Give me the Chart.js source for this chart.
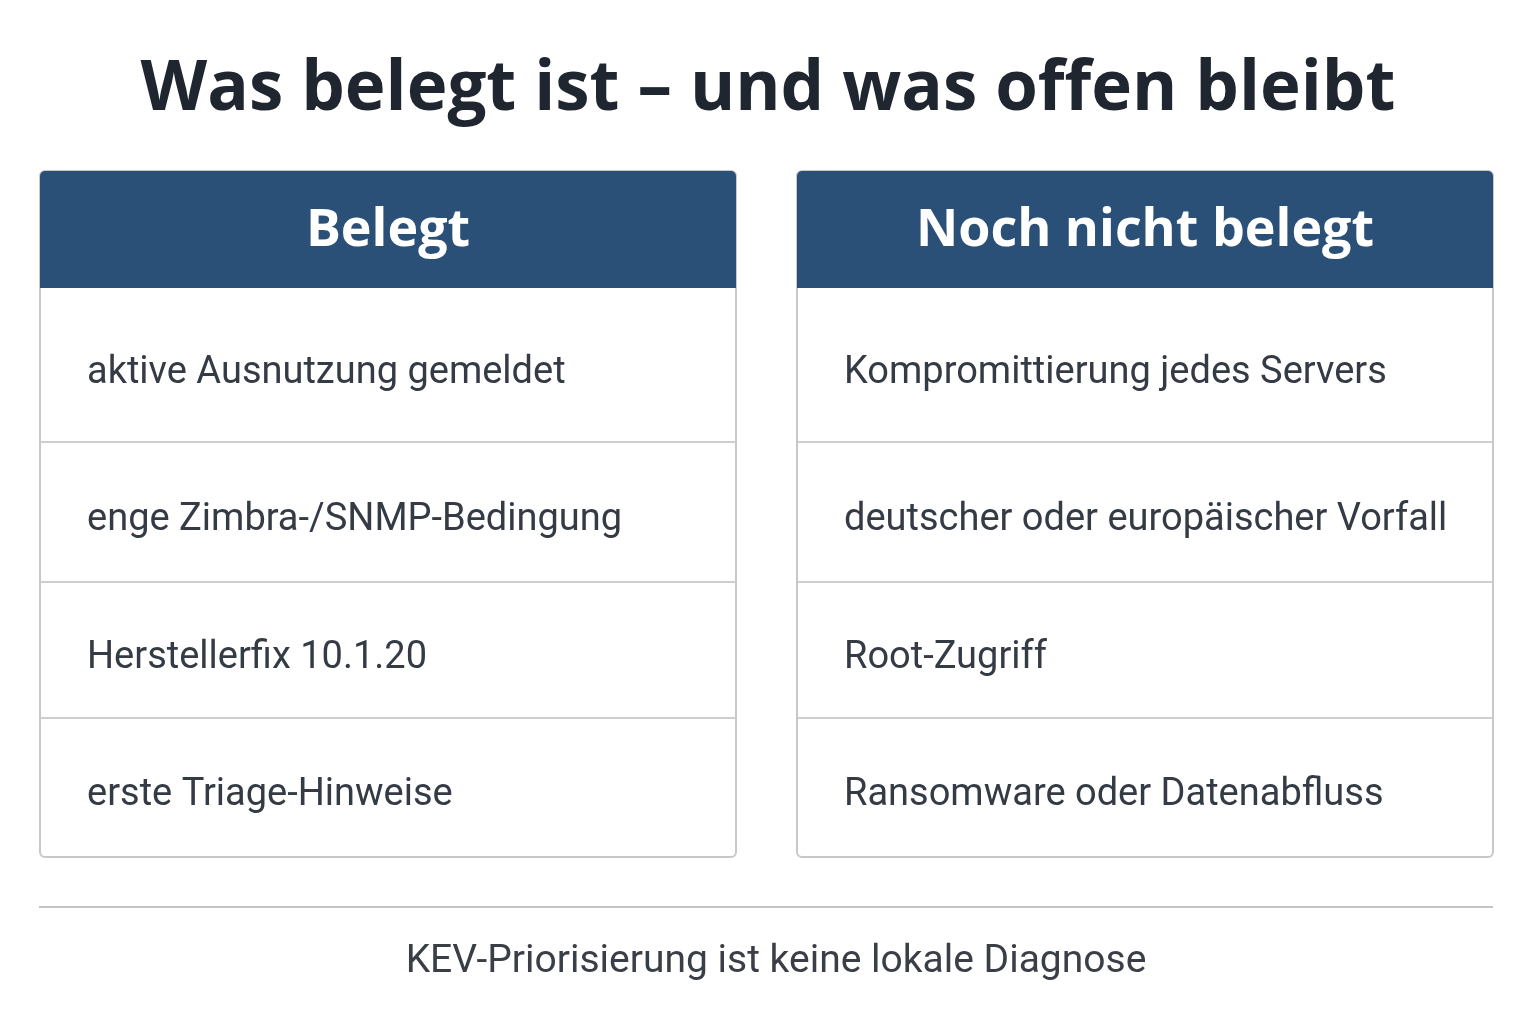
<!DOCTYPE html>
<html><head><meta charset="utf-8">
<script src="https://cdn.jsdelivr.net/npm/chart.js@4"></script>
<style>html,body{margin:0;padding:0;background:#fff}canvas{display:block}</style>
</head><body>
<canvas id="c" width="1536" height="1024"></canvas>
<script>
const title = "Was belegt ist – und was offen bleibt";
const columns = ["Belegt", "Noch nicht belegt"];
const belegt = ["aktive Ausnutzung gemeldet", "enge Zimbra-/SNMP-Bedingung", "Herstellerfix 10.1.20", "erste Triage-Hinweise"];
const offen = ["Kompromittierung jedes Servers", "deutscher oder europäischer Vorfall", "Root-Zugriff", "Ransomware oder Datenabfluss"];
const footer = "KEV-Priorisierung ist keine lokale Diagnose";
const rowBounds = [288, 442, 582, 718, 857];

const tablePlugin = {
  id: 'table',
  afterDraw(chart) {
    const ctx = chart.ctx, a = chart.chartArea;
    ctx.save();
    ctx.fillStyle = '#1f2630';
    ctx.font = 'bold 69px "Open Sans", Roboto, sans-serif';
    ctx.textAlign = 'center'; ctx.textBaseline = 'middle';
    ctx.fillText(title, 768, 90);
    const w = 696;
    [belegt, offen].forEach((items, ci) => {
      const l = ci === 0 ? a.left : a.right - w;
      const r = l + w, cx = (l + r) / 2;
      ctx.strokeStyle = '#c8c8c8'; ctx.lineWidth = 2;
      ctx.beginPath(); ctx.roundRect(l, a.top, w, a.bottom - a.top, 5); ctx.stroke();
      ctx.fillStyle = '#2b5077';
      ctx.beginPath(); ctx.roundRect(l, a.top, w, rowBounds[0] - a.top, [5,5,0,0]); ctx.fill();
      ctx.fillStyle = '#ffffff';
      ctx.font = 'bold 52px "Open Sans", Roboto, sans-serif';
      ctx.textAlign = 'center';
      ctx.fillText(columns[ci], cx, (a.top + rowBounds[0]) / 2 + 2);
      ctx.font = '38px Roboto, "Open Sans", sans-serif';
      ctx.textAlign = 'left';
      items.forEach((t, i) => {
        const y0 = rowBounds[i], y1 = rowBounds[i + 1];
        if (i > 0) {
          ctx.strokeStyle = '#cfcfcf'; ctx.lineWidth = 2;
          ctx.beginPath(); ctx.moveTo(l + 1, y0); ctx.lineTo(r - 1, y0); ctx.stroke();
        }
        ctx.fillStyle = '#343b45';
        ctx.fillText(t, l + 47, (y0 + y1) / 2 + 8);
      });
    });
    ctx.strokeStyle = '#c4c4c4'; ctx.lineWidth = 2;
    ctx.beginPath(); ctx.moveTo(39, 907); ctx.lineTo(1493, 907); ctx.stroke();
    ctx.fillStyle = '#3a3f47';
    ctx.font = '39px Roboto, "Open Sans", sans-serif';
    ctx.textAlign = 'center';
    ctx.fillText(footer, 776, 962);
    ctx.restore();
  }
};

new Chart(document.getElementById('c'), {
  type: 'bar',
  data: { labels: columns, datasets: [{ data: [0, 0] }] },
  options: {
    responsive: false, animation: false,
    layout: { padding: { left: 40, right: 43, top: 171, bottom: 167 } },
    plugins: { legend: { display: false }, tooltip: { enabled: false } },
    scales: { x: { display: false, offset: true }, y: { display: false, min: 0, max: 1 } }
  },
  plugins: [tablePlugin]
});
</script>
</body></html>
